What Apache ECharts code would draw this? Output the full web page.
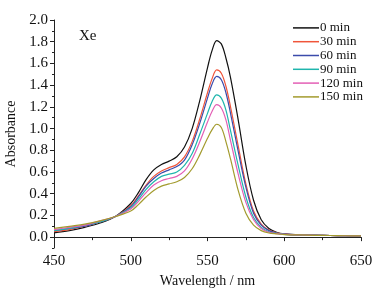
<!DOCTYPE html>
<html>
<head>
<meta charset="utf-8">
<script src="https://cdn.jsdelivr.net/npm/echarts@6/dist/echarts.min.js"></script>
<style>
  html, body { margin: 0; padding: 0; background: #fff; }
  #chart { width: 376px; height: 288px; }
</style>
</head>
<body>
<div id="chart"></div>
<script>
// wavelengths (nm)
var wavelengths = [450, 460, 470, 480, 490, 500, 505, 510, 515, 520, 525, 530, 535, 540, 545, 550, 553, 556, 559, 562, 565, 570, 575, 580, 585, 590, 595, 600, 610, 620, 630, 640, 650];

var seriesNames = ['0 min', '30 min', '60 min', '90 min', '120 min', '150 min'];
var seriesColors = ['#111111', '#f0553a', '#3b4bab', '#1fb5ad', '#e35fb5', '#a39b2e'];

var abs0 = [0.04, 0.06, 0.09, 0.13, 0.19, 0.31, 0.41, 0.53, 0.62, 0.67, 0.70, 0.74, 0.83, 1.00, 1.26, 1.56, 1.72, 1.81, 1.78, 1.65, 1.47, 1.08, 0.66, 0.34, 0.16, 0.08, 0.045, 0.03, 0.02, 0.018, 0.015, 0.013, 0.012];
var abs30 = [0.05, 0.07, 0.10, 0.14, 0.19, 0.29, 0.38, 0.48, 0.56, 0.61, 0.64, 0.67, 0.74, 0.88, 1.09, 1.33, 1.46, 1.54, 1.51, 1.39, 1.20, 0.84, 0.49, 0.24, 0.12, 0.065, 0.04, 0.028, 0.02, 0.017, 0.015, 0.013, 0.012];
var abs60 = [0.06, 0.08, 0.10, 0.14, 0.19, 0.28, 0.37, 0.47, 0.54, 0.59, 0.62, 0.65, 0.71, 0.85, 1.05, 1.28, 1.41, 1.48, 1.45, 1.33, 1.14, 0.79, 0.46, 0.22, 0.11, 0.06, 0.038, 0.027, 0.02, 0.017, 0.015, 0.013, 0.012];
var abs90 = [0.06, 0.08, 0.11, 0.14, 0.19, 0.27, 0.35, 0.44, 0.51, 0.56, 0.58, 0.60, 0.66, 0.77, 0.95, 1.14, 1.25, 1.31, 1.28, 1.17, 0.98, 0.66, 0.37, 0.18, 0.09, 0.05, 0.035, 0.026, 0.02, 0.017, 0.015, 0.013, 0.012];
var abs120 = [0.07, 0.09, 0.11, 0.15, 0.19, 0.26, 0.33, 0.41, 0.48, 0.52, 0.54, 0.56, 0.61, 0.72, 0.88, 1.06, 1.16, 1.22, 1.19, 1.08, 0.89, 0.58, 0.32, 0.16, 0.08, 0.045, 0.032, 0.025, 0.02, 0.017, 0.015, 0.013, 0.012];
var abs150 = [0.08, 0.10, 0.12, 0.15, 0.19, 0.24, 0.30, 0.37, 0.43, 0.47, 0.49, 0.51, 0.55, 0.63, 0.76, 0.91, 0.99, 1.04, 1.01, 0.88, 0.72, 0.43, 0.22, 0.11, 0.06, 0.038, 0.03, 0.024, 0.02, 0.017, 0.015, 0.013, 0.012];

var allAbs = [abs0, abs30, abs60, abs90, abs120, abs150];

var yLabels = [0, 0.2, 0.4, 0.6, 0.8, 1.0, 1.2, 1.4, 1.6, 1.8, 2.0];

var serif = 'Liberation Serif';
var chart = echarts.init(document.getElementById('chart'));

var series = allAbs.map(function (arr, i) {
  return {
    name: seriesNames[i],
    type: 'line',
    smooth: 0.35,
    symbol: 'none',
    yAxisIndex: 0,
    lineStyle: { width: 1.2, color: seriesColors[i] },
    itemStyle: { color: seriesColors[i] },
    data: wavelengths.map(function (w, j) { return [w, arr[j]]; })
  };
});

chart.setOption({
  animation: false,
  grid: { left: 54, right: 15, top: 20, bottom: 40, outerBoundsMode: 'none' },
  legend: {
    orient: 'vertical',
    left: 293,
    top: 21,
    padding: 0,
    icon: 'rect',
    itemWidth: 26,
    itemHeight: 1.5,
    itemGap: 0,
    textStyle: { fontFamily: serif, fontSize: 13, lineHeight: 13.8, color: '#111', padding: [0, 0, 0, -4] },
    data: seriesNames
  },
  xAxis: {
    type: 'value',
    min: 450,
    max: 650,
    interval: 50,
    name: 'Wavelength / nm',
    nameLocation: 'middle',
    nameGap: 22,
    nameTextStyle: { fontFamily: serif, fontSize: 14, color: '#111' },
    axisLine: { lineStyle: { color: '#222', width: 1 } },
    axisTick: { show: true, length: 4, lineStyle: { color: '#222' } },
    minorTick: { show: true, splitNumber: 2, length: 3, lineStyle: { color: '#222' } },
    axisLabel: { fontFamily: serif, fontSize: 15, color: '#111', margin: 6 },
    splitLine: { show: false }
  },
  yAxis: [{
    type: 'value',
    min: -0.1,
    max: 2.0,
    interval: 0.1,
    name: 'Absorbance',
    nameLocation: 'middle',
    nameGap: 36,
    nameTextStyle: { fontFamily: serif, fontSize: 14, color: '#111' },
    axisLine: { show: true, lineStyle: { color: '#222', width: 1 } },
    axisTick: { show: true, length: 4, customValues: yLabels, lineStyle: { color: '#222' } },
    axisLabel: {
      fontFamily: serif, fontSize: 15, color: '#111', margin: 6,
      customValues: yLabels,
      formatter: function (v) { return v.toFixed(1); }
    },
    splitLine: { show: false }
  }, {
    type: 'value',
    position: 'left',
    min: -0.1,
    max: 2.0,
    interval: 0.1,
    axisLine: { show: false },
    axisTick: { show: true, length: 2, lineStyle: { color: '#222' } },
    axisLabel: { show: false },
    splitLine: { show: false }
  }],
  graphic: [{
    type: 'text',
    left: 79,
    top: 29,
    style: { text: 'Xe', fontFamily: serif, fontSize: 15, fill: '#111' }
  }],
  series: series
});
</script>
</body>
</html>
